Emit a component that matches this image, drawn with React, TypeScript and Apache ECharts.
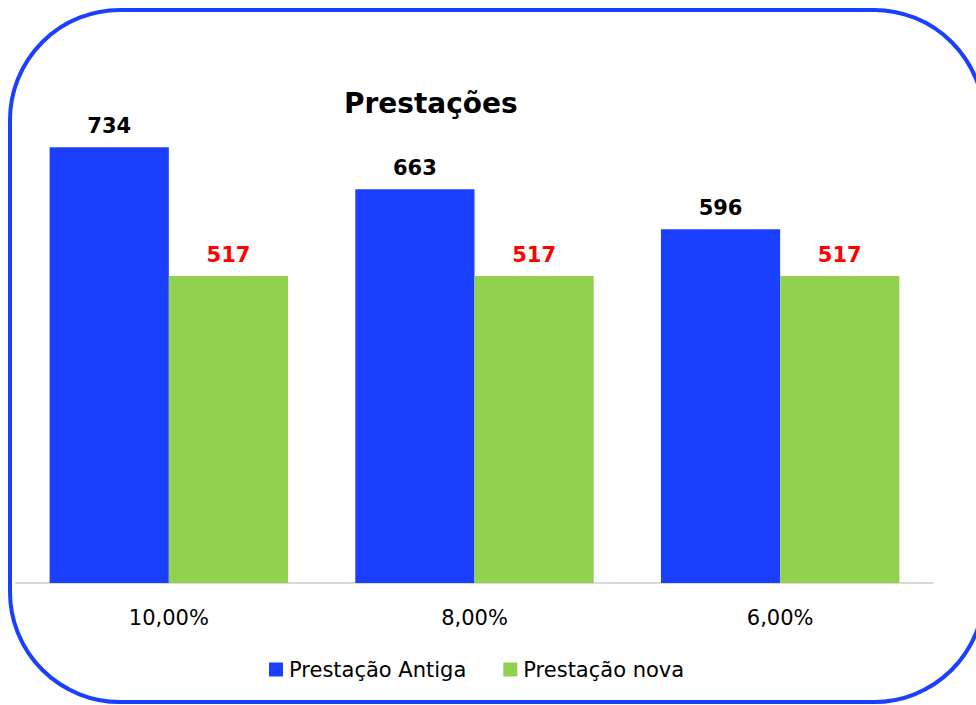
import React, { useEffect, useRef } from "react";
import * as echarts from "echarts";

const categories = ["10,00%", "8,00%", "6,00%"];
const antiga = [734, 663, 596];
const nova = [517, 517, 517];
const seriesNames = ["Prestação Antiga", "Prestação nova"];
const titleText = "Prestações";

const FONT = "DejaVu Sans, Verdana, sans-serif";

export default function App() {
  const ref = useRef<HTMLDivElement>(null);
  useEffect(() => {
    if (!ref.current) return;
    const chart = echarts.init(ref.current, null, { renderer: "svg" });
    chart.setOption({
      animation: false,
      backgroundColor: "#ffffff",
      title: {
        text: titleText,
        left: 339,
        top: 84,
        textStyle: { fontFamily: FONT, fontSize: 28, fontWeight: "bold", color: "#000" },
      },
      graphic: [
        {
          type: "rect",
          shape: { x: 10, y: 10, width: 974, height: 692, r: 110 },
          style: { fill: "none", stroke: "#1a3fff", lineWidth: 4 },
          z: 100,
        },
      ],
      legend: {
        left: 264,
        top: 654,
        itemWidth: 14,
        itemHeight: 14,
        itemGap: 37,
        icon: "rect",
        textStyle: { fontFamily: FONT, fontSize: 21, color: "#000", padding: [0, 0, 0, 1] },
        data: seriesNames,
      },
      grid: { left: 16, right: 43, top: 108, bottom: 705 - 583 },
      xAxis: {
        type: "category",
        data: categories,
        axisLine: { lineStyle: { color: "#d9d9d9", width: 2 } },
        axisTick: { show: false },
        axisLabel: { fontFamily: FONT, fontSize: 21, color: "#000", margin: 24 },
      },
      yAxis: {
        type: "value",
        min: 0,
        max: 800,
        show: false,
        splitLine: { show: false },
      },
      series: [
        {
          name: seriesNames[0],
          type: "bar",
          data: antiga,
          barGap: "0%",
          barCategoryGap: "22%",
          itemStyle: { color: "#1a3fff" },
          label: {
            show: true,
            position: "top",
            distance: 11,
            fontFamily: FONT,
            fontSize: 21,
            fontWeight: "bold",
            color: "#000",
          },
        },
        {
          name: seriesNames[1],
          type: "bar",
          data: nova,
          barGap: "0%",
          barCategoryGap: "22%",
          itemStyle: { color: "#92d050" },
          label: {
            show: true,
            position: "top",
            distance: 11,
            fontFamily: FONT,
            fontSize: 21,
            fontWeight: "bold",
            color: "#ff0000",
          },
        },
      ],
    });
    return () => chart.dispose();
  }, []);
  return (
    <div
      ref={ref}
      style={{ position: "absolute", left: 0, top: 0, width: 976, height: 705 }}
    />
  );
}
